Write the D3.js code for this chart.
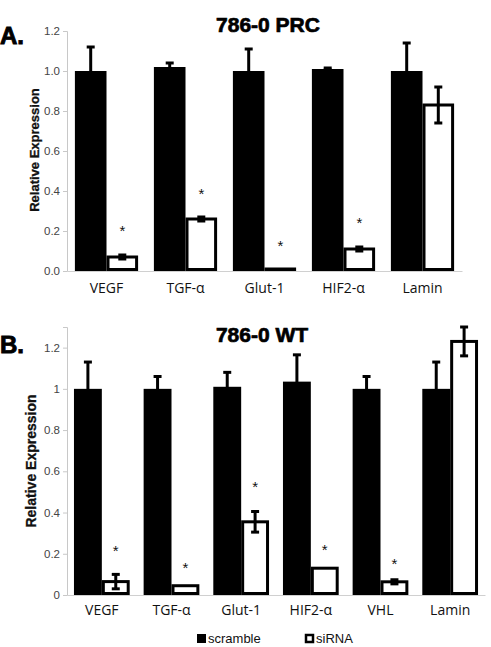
<!DOCTYPE html>
<html><head><meta charset="utf-8">
<script src="https://cdn.jsdelivr.net/npm/d3@7/dist/d3.min.js"></script>
<style>body{margin:0;background:#fff}svg{display:block}</style>
</head><body>
<svg id="c" width="491" height="647"></svg>
<script>
// Panel A data (786-0 PRC)
const catsA = ["VEGF", "TGF-α", "Glut-1", "HIF2-α", "Lamin"];
const scrambleA = [1.00, 1.02, 1.00, 1.01, 1.00];
const scrambleErrA = [0.12, 0.02, 0.11, 0.005, 0.14];
const sirnaA = [0.07, 0.26, 0.01, 0.11, 0.83];
const sirnaErrA = [0.01, 0.01, 0, 0.01, 0.09];
const sigA = [0.215, 0.40, 0.14, 0.255, null];
const ticksA = [0, 0.2, 0.4, 0.6, 0.8, 1.0, 1.2];
const tickLabelsA = ["0.0", "0.2", "0.4", "0.6", "0.8", "1.0", "1.2"];

// Panel B data (786-0 WT)
const catsB = ["VEGF", "TGF-α", "Glut-1", "HIF2-α", "VHL", "Lamin"];
const scrambleB = [1.00, 1.00, 1.01, 1.035, 1.00, 1.00];
const scrambleErrB = [0.13, 0.06, 0.07, 0.13, 0.06, 0.13];
const sirnaB = [0.065, 0.045, 0.355, 0.13, 0.064, 1.23];
const sirnaErrB = [0.035, 0, 0.05, 0, 0.01, 0.07];
const sigB = [0.23, 0.145, 0.54, 0.235, 0.166, null];
const ticksB = [0, 0.2, 0.4, 0.6, 0.8, 1, 1.2];
const tickLabelsB = ["0", "0.2", "0.4", "0.6", "0.8", "1", "1.2"];

const seriesNames = ["scramble", "siRNA"];

const svg = d3.select("#c");

function panel(o) {
  const g = svg.append("g");
  const x = d3.scaleBand().domain(o.cats).range([o.x0, o.x1]).padding(0);
  const xi = d3.scaleBand().domain(seriesNames)
    .range([x.bandwidth() * 0.1, x.bandwidth() * 0.9]).padding(0);
  const y = d3.scaleLinear().domain([0, o.ymax]).range([o.yb, o.yt]);

  // y axis
  const ya = d3.axisLeft(y).tickValues(o.ticks).tickSize(4).tickPadding(3)
    .tickFormat((d, i) => o.tickLabels[i]);
  const yg = g.append("g").attr("transform", `translate(${o.x0},0)`).call(ya);
  yg.select(".domain").attr("stroke", "#c8c8c8");
  yg.selectAll(".tick line").attr("stroke", "#c8c8c8");
  yg.selectAll(".tick text").attr("fill", "#444")
    .style("font-family", "'Liberation Sans', Arial, sans-serif").style("font-size", "11.5px");

  // x axis baseline
  const xa = d3.axisBottom(x).tickSize(0).tickPadding(o.catPad);
  const xg = g.append("g").attr("transform", `translate(0,${o.yb})`).call(xa);
  xg.select(".domain").attr("stroke", "#d0d0d0");
  xg.selectAll(".tick text").attr("fill", "#111")
    .style("font-family", "'Open Sans', sans-serif").style("font-size", "14px");

  const rows = o.cats.map((c, i) => ({
    c, s: o.scr[i], se: o.scrErr[i], r: o.si[i], re: o.siErr[i], sig: o.sig[i]
  }));
  const grp = g.selectAll(".grp").data(rows).join("g")
    .attr("transform", d => `translate(${x(d.c)},0)`);

  // scramble bars
  grp.append("rect")
    .attr("x", xi("scramble")).attr("width", xi.bandwidth())
    .attr("y", d => y(d.s)).attr("height", d => y(0) - y(d.s))
    .attr("fill", "#000");
  // siRNA bars
  grp.append("rect")
    .attr("x", xi("siRNA") + 1.5).attr("width", xi.bandwidth() - 3)
    .attr("y", d => y(d.r)).attr("height", d => Math.max(0, y(0) - y(d.r) - 1.5))
    .attr("fill", "#fff").attr("stroke", "#000").attr("stroke-width", 3);

  function errBar(sel, key, vk, ek) {
    const cx = xi(key) + xi.bandwidth() / 2;
    const e = sel.filter(d => d[ek] > 0.004).append("g");
    e.append("line").attr("x1", cx).attr("x2", cx)
      .attr("y1", d => y(d[vk] + d[ek])).attr("y2", d => y(d[vk] - d[ek]))
      .attr("stroke", "#000").attr("stroke-width", 3);
    e.append("line").attr("x1", cx - 4).attr("x2", cx + 4)
      .attr("y1", d => y(d[vk] + d[ek])).attr("y2", d => y(d[vk] + d[ek]))
      .attr("stroke", "#000").attr("stroke-width", 3);
    e.append("line").attr("x1", cx - 4).attr("x2", cx + 4)
      .attr("y1", d => y(d[vk] - d[ek])).attr("y2", d => y(d[vk] - d[ek]))
      .attr("stroke", "#000").attr("stroke-width", 3);
  }
  errBar(grp, "scramble", "s", "se");
  errBar(grp, "siRNA", "r", "re");

  // significance asterisks
  grp.filter(d => d.sig != null).append("text")
    .attr("x", xi("siRNA") + xi.bandwidth() / 2)
    .attr("y", d => y(d.sig) + 8)
    .attr("text-anchor", "middle")
    .style("font-family", "'Liberation Sans', Arial, sans-serif").style("font-size", "15px")
    .attr("fill", "#111").text("*");

  // titles
  g.append("text").attr("x", o.titleX).attr("y", o.titleY).attr("text-anchor", "middle")
    .style("font-family", "'Liberation Sans', Arial, sans-serif").style("font-weight", "bold")
    .style("font-size", "21px").attr("fill", "#000")
    .attr("stroke", "#000").attr("stroke-width", 0.7).text(o.title);
  g.append("text").attr("x", 0).attr("y", o.letterY)
    .style("font-family", "'Liberation Sans', Arial, sans-serif").style("font-weight", "bold")
    .style("font-size", "24px").attr("fill", "#000")
    .attr("stroke", "#000").attr("stroke-width", 0.9).text(o.letter);
  g.append("text")
    .attr("transform", `translate(${o.labX},${o.labY}) rotate(-90)`)
    .attr("text-anchor", "middle")
    .style("font-family", "'Liberation Sans', Arial, sans-serif").style("font-weight", "bold")
    .style("font-size", o.labSize + "px").attr("fill", "#111")
    .attr("stroke", "#111").attr("stroke-width", 0.3).text("Relative Expression");
}

panel({cats: catsA, scr: scrambleA, scrErr: scrambleErrA, si: sirnaA, siErr: sirnaErrA, sig: sigA,
  ticks: ticksA, tickLabels: tickLabelsA, ymax: 1.2, x0: 67, x1: 462, yb: 271, yt: 31,
  title: "786-0 PRC", titleX: 268, titleY: 32, letter: "A.", letterY: 44,
  labX: 39, labY: 150, labSize: 13, catPad: 12});
panel({cats: catsB, scr: scrambleB, scrErr: scrambleErrB, si: sirnaB, siErr: sirnaErrB, sig: sigB,
  ticks: ticksB, tickLabels: tickLabelsB, ymax: 1.3, x0: 67, x1: 485, yb: 595, yt: 327,
  title: "786-0 WT", titleX: 262, titleY: 342, letter: "B.", letterY: 353,
  labX: 36, labY: 461, labSize: 14, catPad: 10});

// legend
const leg = svg.append("g").attr("transform", "translate(197,634)");
const li = leg.selectAll("g").data(seriesNames).join("g")
  .attr("transform", (d, i) => `translate(${i * 108},0)`);
li.append("rect").attr("x", d => d === "siRNA" ? 1 : 0).attr("y", d => d === "siRNA" ? 1 : 0)
  .attr("width", d => d === "siRNA" ? 7 : 9).attr("height", d => d === "siRNA" ? 7 : 9)
  .attr("fill", d => d === "siRNA" ? "#fff" : "#000")
  .attr("stroke", "#000").attr("stroke-width", d => d === "siRNA" ? 2.5 : 0);
li.append("text").attr("x", 11).attr("y", 9)
  .style("font-family", "'Liberation Sans', Arial, sans-serif").style("font-size", "13px")
  .attr("fill", "#111").text(d => d);
</script>
</body></html>
